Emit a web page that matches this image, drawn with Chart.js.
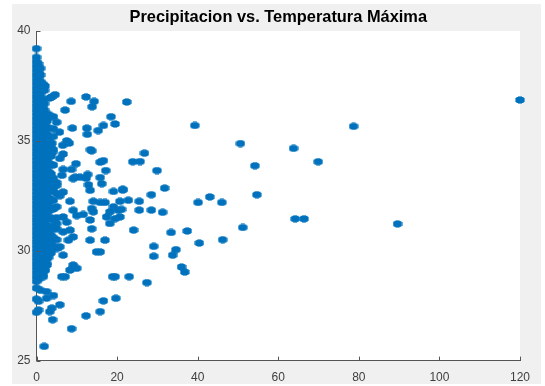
<!DOCTYPE html>
<html>
<head>
<meta charset="utf-8">
<script src="https://cdn.jsdelivr.net/npm/chart.js@4/dist/chart.umd.min.js"></script>
<style>
  html, body { margin: 0; padding: 0; background: #fff; }
  #wrap { width: 545px; height: 386px; }
</style>
</head>
<body>
<div id="wrap"><canvas id="grafico" width="545" height="386"></canvas></div>
<script>

///////////   DATOS  /////////////////

const titulo = "Precipitacion vs. Temperatura Máxima";
const ticksX = [0, 20, 40, 60, 80, 100, 120];
const ticksY = [25, 30, 35, 40];

// banda densa de dias casi sin lluvia (temperatura maxima por columna)
const tmaxP0 = [27.2, 27.8, 28.3, 28.6, 28.8, 29.0, 29.2, 29.4, 29.6, 29.8, 30.0, 30.2, 30.4, 30.6, 30.8,
  31.0, 31.2, 31.4, 31.6, 31.8, 32.0, 32.2, 32.4, 32.6, 32.8, 33.0, 33.2, 33.4, 33.6, 33.8, 34.0,
  34.2, 34.4, 34.6, 34.8, 35.0, 35.2, 35.4, 35.6, 35.8, 36.0, 36.2, 36.4, 36.6, 36.8, 37.0, 37.2,
  37.4, 37.6, 37.8, 38.0, 38.2, 38.4, 38.6, 38.8, 39.2];
const tmaxP05 = [28.7, 28.9, 29.1, 29.3, 29.5, 29.7, 29.9, 30.1, 30.3, 30.5, 30.7, 30.9, 31.1, 31.3, 31.5,
  31.7, 31.9, 32.1, 32.3, 32.5, 32.7, 32.9, 33.1, 33.3, 33.5, 33.7, 33.9, 34.1, 34.3, 34.5, 34.7,
  34.9, 35.1, 35.3, 35.5, 35.7, 35.9, 36.1, 36.3, 36.5, 36.7, 36.9, 37.1, 37.3, 37.5, 37.7, 37.9, 38.1, 38.5];
const tmaxP1 = [28.2, 28.9, 29.3, 29.6, 29.9, 30.2, 30.5, 30.8, 31.1, 31.4, 31.7, 32.0, 32.3, 32.6, 32.9,
  33.2, 33.5, 33.8, 34.1, 34.4, 34.7, 35.0, 35.3, 35.6, 35.9, 36.2, 36.5, 36.8, 37.1, 37.4, 37.7, 38.0, 38.3];
const tmaxP15 = [28.9, 29.2, 29.45, 29.7, 29.95, 30.25, 30.55, 30.85, 31.15, 31.45, 31.75, 32.05, 32.35,
  32.65, 32.95, 33.25, 33.55, 33.85, 34.15, 34.45, 34.75, 35.05, 35.35, 35.65, 35.95, 36.25, 36.55, 36.9, 37.6];
const tmaxP2 = [29.1, 29.5, 29.8, 30.1, 30.4, 30.7, 31.0, 31.3, 31.6, 31.9, 32.2, 32.5, 32.8, 33.1, 33.4,
  33.7, 34.0, 34.3, 34.6, 34.9, 35.2, 35.5, 35.8, 36.1, 36.4, 36.7, 37.3];
const tmaxP25 = [29.35, 29.65, 29.95, 30.25, 30.55, 30.85, 31.15, 31.45, 31.75, 32.05, 32.35, 32.65, 32.95,
  33.25, 33.55, 33.85, 34.15, 34.45, 34.8, 35.3, 35.9];
const tmaxP3 = [29.7, 30.0, 30.4, 30.8, 31.1, 31.5, 31.8, 32.1, 32.4, 32.8, 33.2, 33.6, 34.0, 34.3, 34.7, 35.1, 35.6, 36.2];
const tmaxP35 = [29.9, 30.3, 30.7, 31.1, 31.5, 31.9, 32.3, 32.7, 33.1, 33.5, 33.9, 34.3, 34.8];
const tmaxP4 = [30.2, 30.6, 31.0, 31.4, 31.9, 32.3, 32.8, 33.3, 33.9, 34.6, 35.2];
const tmaxP5 = [30.1, 30.5, 31.0, 31.5, 32.0, 32.6, 33.1];

// puntos sueltos [precipitacion, temperatura maxima]
const cercanos = [
  [2.1, 37.5], [4.6, 37.1], [3.8, 37.0], [3.3, 36.95], [8.6, 36.8], [12.3, 37.0], [14.3, 36.8], [13.8, 36.55],
  [22.4, 36.77], [7.1, 36.4], [4.2, 36.1], [2.9, 36.05], [5.0, 35.85], [18.5, 36.1], [16.6, 35.7], [19.5, 35.77],
  [8.9, 35.58], [12.5, 35.58], [12.6, 35.3], [15.3, 35.47], [4.2, 35.55], [5.7, 35.4], [7.5, 35.0], [8.1, 34.9],
  [6.5, 34.8], [3.8, 34.9], [4.0, 34.48], [13.4, 34.6], [13.7, 34.55], [6.6, 34.4], [5.8, 34.2], [9.8, 33.96],
  [15.8, 34.03], [16.6, 34.1], [17.2, 33.65], [12.7, 33.47], [6.6, 33.7], [8.7, 33.7], [6.3, 33.43], [9.6, 33.35],
  [10.8, 33.35], [15.8, 33.33], [9.1, 33.28], [12.3, 33.3], [16.2, 33.05], [12.9, 33.0], [13.3, 32.75],
  [5.0, 32.97], [6.6, 32.67], [5.8, 32.5], [19.1, 32.7], [21.4, 32.8], [8.3, 32.25], [14.1, 32.25], [15.8, 32.2],
  [17.0, 32.2], [20.7, 32.25], [22.8, 32.3], [19.1, 32.0], [18.2, 31.77], [20.3, 31.84], [21.1, 31.88],
  [13.7, 31.92], [14.1, 31.77], [9.1, 31.84], [10.0, 31.6], [11.6, 31.65], [6.6, 31.54], [7.5, 31.3], [5.0, 31.24],
  [17.4, 31.54], [18.2, 31.24], [19.5, 31.46], [13.3, 31.4], [13.7, 31.0], [20.7, 31.54], [24.1, 30.94],
  [6.6, 30.86], [8.3, 30.94], [9.1, 30.63], [7.9, 30.48], [13.3, 30.48], [17.0, 30.48], [14.9, 29.95], [15.8, 29.95],
  [5.8, 30.18], [6.6, 29.8], [9.1, 29.35], [10.0, 29.2], [8.3, 29.12], [2.5, 29.43], [2.1, 29.12], [1.7, 29.27],
  [1.7, 28.82], [6.3, 28.82], [7.1, 28.82], [18.9, 28.82], [19.5, 28.82], [23.0, 28.82], [2.5, 28.14], [4.2, 27.96],
  [2.5, 27.84], [0.5, 27.7], [5.8, 27.54], [3.8, 27.39], [3.3, 27.23], [0.5, 27.3], [16.6, 27.72], [19.7, 27.84],
  [15.8, 27.23], [12.3, 27.04], [4.0, 26.86], [8.7, 26.45], [1.9, 25.65]
];
const lejanos = [
  [25.7, 34.06], [23.9, 34.05], [26.8, 34.44], [29.9, 33.65], [31.8, 32.85], [28.5, 32.55], [25.5, 32.25],
  [40.1, 32.2], [43.0, 32.45], [46.0, 32.2], [54.7, 32.55], [25.5, 31.85], [28.5, 31.85], [31.3, 31.75],
  [64.2, 31.45], [66.4, 31.45], [51.2, 31.06], [33.4, 30.83], [37.4, 30.9], [40.4, 30.35], [46.2, 30.5],
  [29.1, 30.2], [29.1, 29.75], [34.6, 30.05], [33.8, 29.8], [36.0, 29.26], [36.8, 29.03], [27.4, 28.55],
  [39.3, 35.7], [50.6, 34.88], [63.8, 34.66], [69.9, 34.05], [54.2, 33.87], [78.7, 35.66], [120, 36.86],
  [89.6, 31.22], [21.4, 32.76]
];

///////////   PUNTOS  /////////////////

const azul = "#0072BD";
const fuente = '"Liberation Sans", Arial, sans-serif';

// marcador algo achatado y de borde limpio, como en la figura original
const marcador = document.createElement("canvas");
marcador.width = 10;
marcador.height = 8;
const mctx = marcador.getContext("2d");
const img = mctx.createImageData(10, 8);
for (let py = 0; py < 8; py += 1) {
  for (let px = 0; px < 10; px += 1) {
    const dx = (px + 0.5 - 5) / 4.8, dy = (py + 0.5 - 4) / 3.8;
    const d = dx * dx + dy * dy;
    if (d <= 1.08) {
      const k = (py * 10 + px) * 4;
      img.data[k] = 0x00; img.data[k + 1] = 0x72; img.data[k + 2] = 0xBD;
      img.data[k + 3] = d <= 0.85 ? 255 : 150;
    }
  }
}
mctx.putImageData(img, 0, 0);

const puntos = [];
const columna = (lista, precip) => lista.forEach(t => puntos.push({ x: precip, y: t }));
columna(tmaxP0, 0);
columna(tmaxP05, 0.5);
columna(tmaxP1, 1);
columna(tmaxP15, 1.5);
columna(tmaxP2, 2);
columna(tmaxP25, 2.6);
columna(tmaxP3, 3);
columna(tmaxP35, 3.6);
columna(tmaxP4, 4.2);
columna(tmaxP5, 5);
cercanos.concat(lejanos).forEach(p => puntos.push({ x: p[0], y: p[1] }));

///////////   FONDO, TITULO Y TICKS  /////////////////

const marco = {
  id: "marco",
  beforeDraw(chart) {
    const { ctx, chartArea: a } = chart;
    ctx.save();
    ctx.fillStyle = "#f0f0f0";
    ctx.fillRect(12, 4, 529, 380);
    ctx.fillStyle = "#fff";
    ctx.fillRect(a.left, a.top, a.right - a.left, a.bottom - a.top);
    ctx.restore();
  },
  afterDraw(chart) {
    const { ctx, chartArea: a } = chart;
    const sx = chart.scales.x, sy = chart.scales.y;
    ctx.save();
    ctx.strokeStyle = "#555";
    ctx.lineWidth = 1;
    ctx.beginPath();
    sx.ticks.forEach((t, i) => {
      const px = Math.round(sx.getPixelForTick(i)) + 0.5;
      ctx.moveTo(px, a.bottom);
      ctx.lineTo(px, a.bottom - 4);
    });
    sy.ticks.forEach((t, i) => {
      const py = Math.round(sy.getPixelForTick(i)) + 0.5;
      ctx.moveTo(a.left, py);
      ctx.lineTo(a.left + 4, py);
    });
    ctx.stroke();

    ctx.fillStyle = "#000";
    ctx.font = "bold 16.4px " + fuente;
    ctx.textAlign = "center";
    ctx.textBaseline = "middle";
    ctx.fillText(titulo, (a.left + a.right) / 2, 17);
    ctx.restore();
  }
};

new Chart(document.querySelector("#grafico"), {
  type: "scatter",
  data: {
    datasets: [{
      data: puntos,
      pointStyle: marcador,
      backgroundColor: azul,
      borderWidth: 0,
      clip: false
    }]
  },
  options: {
    responsive: false,
    animation: false,
    events: [],
    layout: { padding: { left: 0, top: 31, right: 25, bottom: 0 } },
    plugins: { legend: { display: false }, title: { display: false }, tooltip: { enabled: false } },
    scales: {
      x: {
        type: "linear",
        min: 0,
        max: 120,
        z: 1,
        afterFit(s) { s.height = 25.4; },
        afterBuildTicks(s) { s.ticks = ticksX.map(v => ({ value: v })); },
        grid: { drawOnChartArea: false, drawTicks: false },
        border: { display: true, color: "#555", width: 1 },
        ticks: { color: "#404040", font: { family: fuente, size: 12 }, padding: 10, maxRotation: 0 }
      },
      y: {
        type: "linear",
        min: 25,
        max: 40,
        z: 1,
        afterFit(s) { s.width = 36.5; },
        afterBuildTicks(s) { s.ticks = ticksY.map(v => ({ value: v })); },
        grid: { drawOnChartArea: false, drawTicks: false },
        border: { display: true, color: "#555", width: 1 },
        ticks: { color: "#404040", font: { family: fuente, size: 12 }, padding: 6 }
      }
    }
  },
  plugins: [marco]
});

</script>
</body>
</html>
